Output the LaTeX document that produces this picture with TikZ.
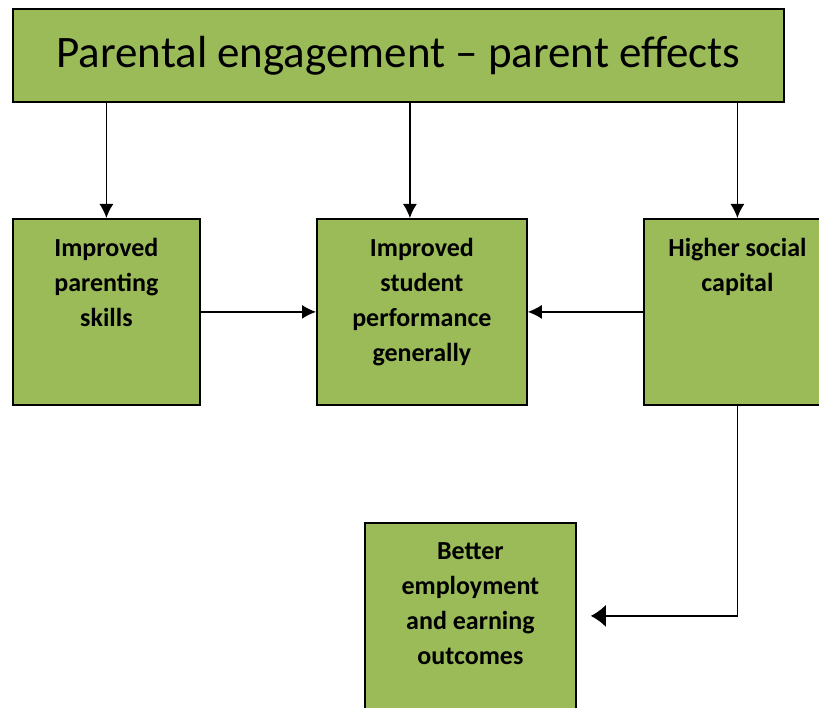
\documentclass[tikz,border=0pt]{standalone}
\usepackage{fontspec}
\setmainfont{Carlito}
\usetikzlibrary{positioning, arrows.meta, calc}
\definecolor{boxgreen}{HTML}{9BBB59}

\tikzset{
  stage/.style={draw, line width=1.8pt, fill=boxgreen, anchor=north west, inner sep=0pt, minimum height=186pt},
  caption/.style={anchor=north, inner sep=0pt, align=center, font=\bfseries\fontsize{26}{35}\selectfont},
  arr/.style={-{Latex[length=14pt,width=14pt]}, line width=1.4pt}
}

\begin{document}
\begin{tikzpicture}[x=1pt, y=-1pt]
      \useasboundingbox (0,0) rectangle (819,708);

      \node[draw, line width=1.8pt, fill=boxgreen, minimum width=771pt, minimum height=93pt, anchor=north west, font=\fontsize{45}{54}\selectfont] (top) at (12,8) {Parental engagement -- parent effects};

      \node[stage, minimum width=187pt, label={[caption, yshift=-20pt]north:Improved\\parenting\\skills}] (parenting) at (12,218) {};
      \node[stage, minimum width=210pt, label={[caption, yshift=-20pt]north:Improved\\student\\performance\\generally}] (performance) at (316,218) {};
      \node[stage, minimum width=187pt, label={[caption, yshift=-20pt]north:Higher social\\capital}] (social) at (643,218) {};
      \node[stage, minimum width=211pt, label={[caption, yshift=-20pt]north:Better\\employment\\and earning\\outcomes}] (employment) at (364,522) {};

      \coordinate (p2) at ([xshift=-12pt]performance.north);
      \draw[arr] (top.south -| parenting.north) -- (parenting.north);
      \draw[arr] (top.south -| p2) -- (p2);
      \draw[arr] (top.south -| social.north) -- (social.north);

      \draw[arr] (parenting.east) -- (performance.west);
      \draw[arr] (social.west) -- (performance.east);
      \draw[arr, -{Latex[length=15pt,width=22pt]}] (social.south) |- ([xshift=14pt]employment.east);
\end{tikzpicture}
\end{document}
